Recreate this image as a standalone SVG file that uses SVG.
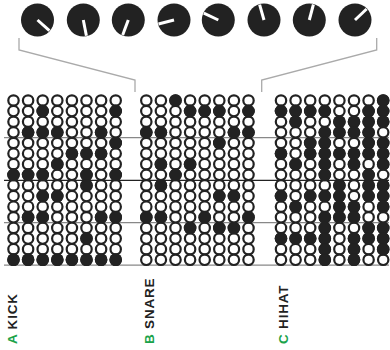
<svg xmlns="http://www.w3.org/2000/svg" xmlns:xlink="http://www.w3.org/1999/xlink" width="390" height="350" viewBox="0 0 390 350">
<style>
.knob{fill:#222}
.ptr{stroke:#fff;stroke-width:3;fill:none}
.br{stroke:#aaa;stroke-width:1.3;fill:none}
.hl{stroke:#888;stroke-width:1.3}
.hd{stroke:#222;stroke-width:1.3}
.o{fill:#fff;stroke:#222;stroke-width:2.2}
.f{fill:#222}
.lab{font-family:"Liberation Sans",Arial,sans-serif;font-weight:bold;font-size:13.5px;letter-spacing:0.8px;fill:#222}
.g{fill:#1ba34a}
</style>
<defs>
<circle id="oc" class="o" r="5.2"/>
<circle id="f" class="f" r="6.3"/>
<g id="row">
<use href="#oc" x="0"/><use href="#oc" x="14.6"/><use href="#oc" x="29.2"/><use href="#oc" x="43.8"/><use href="#oc" x="58.4"/><use href="#oc" x="73"/><use href="#oc" x="87.6"/><use href="#oc" x="102.2"/>
</g>
<g id="grid">
<use href="#row" y="0"/><use href="#row" y="10.62"/><use href="#row" y="21.24"/><use href="#row" y="31.86"/><use href="#row" y="42.48"/><use href="#row" y="53.1"/><use href="#row" y="63.72"/><use href="#row" y="74.34"/><use href="#row" y="84.96"/><use href="#row" y="95.58"/><use href="#row" y="106.2"/><use href="#row" y="116.82"/><use href="#row" y="127.44"/><use href="#row" y="138.06"/><use href="#row" y="148.68"/><use href="#row" y="159.3"/>
</g>
</defs>
<rect width="390" height="350" fill="#fff"/>
<g id="knobs">
<g id="knob1"><circle class="knob" cx="37.5" cy="20" r="16.5"/><line class="ptr" x1="37.5" y1="20" x2="49.4" y2="30.6"/></g>
<g id="knob2"><circle class="knob" cx="83.3" cy="20" r="16.5"/><line class="ptr" x1="83.3" y1="20" x2="86.4" y2="35.7"/></g>
<g id="knob3"><circle class="knob" cx="128.3" cy="20" r="16.5"/><line class="ptr" x1="128.3" y1="20" x2="122.7" y2="35"/></g>
<g id="knob4"><circle class="knob" cx="174" cy="20" r="16.5"/><line class="ptr" x1="174" y1="20" x2="158.5" y2="24"/></g>
<g id="knob5"><circle class="knob" cx="218.3" cy="20" r="16.5"/><line class="ptr" x1="218.3" y1="20" x2="203.8" y2="13.2"/></g>
<g id="knob6"><circle class="knob" cx="264" cy="20" r="16.5"/><line class="ptr" x1="264" y1="20" x2="259.6" y2="4.6"/></g>
<g id="knob7"><circle class="knob" cx="309.3" cy="20" r="16.5"/><line class="ptr" x1="309.3" y1="20" x2="313.4" y2="4.5"/></g>
<g id="knob8"><circle class="knob" cx="355" cy="20" r="16.5"/><line class="ptr" x1="355" y1="20" x2="366.6" y2="9"/></g>
</g>
<g id="connectors">
<polyline class="br" points="19,38 19,50 135,80 135,92"/>
<polyline class="br" points="376.7,38 376.7,50 261.7,80 261.7,92"/>
<line class="hl" x1="4" y1="137.7" x2="389" y2="137.7"/>
<line class="hd" x1="4" y1="180.3" x2="389" y2="180.3"/>
<line class="hl" x1="4" y1="222.7" x2="389" y2="222.7"/>
<line class="hl" x1="4" y1="265.2" x2="389" y2="265.2"/>
</g>
<g id="kick" transform="translate(13.5,100.5)">
<use href="#grid"/>
<use href="#f" x="29.2" y="10.62"/><use href="#f" x="102.2" y="10.62"/>
<use href="#f" x="14.6" y="31.86"/><use href="#f" x="29.2" y="31.86"/><use href="#f" x="43.8" y="31.86"/><use href="#f" x="87.6" y="31.86"/>
<use href="#f" x="102.2" y="42.48"/>
<use href="#f" x="58.4" y="53.1"/><use href="#f" x="73" y="53.1"/><use href="#f" x="87.6" y="53.1"/>
<use href="#f" x="43.8" y="63.72"/>
<use href="#f" x="0" y="74.34"/><use href="#f" x="14.6" y="74.34"/><use href="#f" x="29.2" y="74.34"/><use href="#f" x="73" y="74.34"/><use href="#f" x="102.2" y="74.34"/>
<use href="#f" x="73" y="84.96"/>
<use href="#f" x="29.2" y="95.58"/><use href="#f" x="43.8" y="95.58"/>
<use href="#f" x="14.6" y="116.82"/><use href="#f" x="29.2" y="116.82"/><use href="#f" x="87.6" y="116.82"/><use href="#f" x="102.2" y="116.82"/>
<use href="#f" x="73" y="138.06"/>
<use href="#f" x="0" y="159.3"/><use href="#f" x="14.6" y="159.3"/><use href="#f" x="29.2" y="159.3"/><use href="#f" x="43.8" y="159.3"/><use href="#f" x="58.4" y="159.3"/><use href="#f" x="73" y="159.3"/><use href="#f" x="87.6" y="159.3"/><use href="#f" x="102.2" y="159.3"/>
</g>
<g id="snare" transform="translate(146.3,100.5)">
<use href="#grid"/>
<use href="#f" x="29.2" y="0"/>
<use href="#f" x="43.8" y="10.62"/><use href="#f" x="58.4" y="10.62"/><use href="#f" x="73" y="10.62"/><use href="#f" x="102.2" y="10.62"/>
<use href="#f" x="0" y="31.86"/><use href="#f" x="14.6" y="31.86"/><use href="#f" x="87.6" y="31.86"/><use href="#f" x="102.2" y="31.86"/>
<use href="#f" x="73" y="42.48"/>
<use href="#f" x="14.6" y="63.72"/><use href="#f" x="43.8" y="63.72"/>
<use href="#f" x="29.2" y="74.34"/>
<use href="#f" x="14.6" y="84.96"/>
<use href="#f" x="73" y="95.58"/><use href="#f" x="87.6" y="95.58"/>
<use href="#f" x="0" y="116.82"/><use href="#f" x="14.6" y="116.82"/><use href="#f" x="58.4" y="116.82"/><use href="#f" x="102.2" y="116.82"/>
<use href="#f" x="43.8" y="127.44"/><use href="#f" x="73" y="127.44"/><use href="#f" x="87.6" y="127.44"/>
</g>
<g id="hihat" transform="translate(281,100.5)">
<use href="#grid"/>
<use href="#f" x="102.2" y="0"/>
<use href="#f" x="0" y="10.62"/><use href="#f" x="14.6" y="10.62"/><use href="#f" x="29.2" y="10.62"/><use href="#f" x="43.8" y="10.62"/><use href="#f" x="87.6" y="10.62"/><use href="#f" x="102.2" y="10.62"/>
<use href="#f" x="14.6" y="21.24"/><use href="#f" x="58.4" y="21.24"/><use href="#f" x="73" y="21.24"/><use href="#f" x="87.6" y="21.24"/><use href="#f" x="102.2" y="21.24"/>
<use href="#f" x="43.8" y="31.86"/><use href="#f" x="58.4" y="31.86"/><use href="#f" x="73" y="31.86"/><use href="#f" x="87.6" y="31.86"/>
<use href="#f" x="29.2" y="42.48"/><use href="#f" x="43.8" y="42.48"/><use href="#f" x="87.6" y="42.48"/><use href="#f" x="102.2" y="42.48"/>
<use href="#f" x="0" y="53.1"/><use href="#f" x="29.2" y="53.1"/><use href="#f" x="43.8" y="53.1"/><use href="#f" x="58.4" y="53.1"/><use href="#f" x="73" y="53.1"/><use href="#f" x="87.6" y="53.1"/><use href="#f" x="102.2" y="53.1"/>
<use href="#f" x="14.6" y="63.72"/><use href="#f" x="43.8" y="63.72"/><use href="#f" x="73" y="63.72"/><use href="#f" x="102.2" y="63.72"/>
<use href="#f" x="43.8" y="74.34"/><use href="#f" x="87.6" y="74.34"/>
<use href="#f" x="58.4" y="84.96"/><use href="#f" x="87.6" y="84.96"/><use href="#f" x="102.2" y="84.96"/>
<use href="#f" x="0" y="95.58"/><use href="#f" x="29.2" y="95.58"/><use href="#f" x="43.8" y="95.58"/><use href="#f" x="58.4" y="95.58"/><use href="#f" x="87.6" y="95.58"/><use href="#f" x="102.2" y="95.58"/>
<use href="#f" x="14.6" y="106.2"/><use href="#f" x="58.4" y="106.2"/><use href="#f" x="73" y="106.2"/><use href="#f" x="102.2" y="106.2"/>
<use href="#f" x="43.8" y="116.82"/><use href="#f" x="58.4" y="116.82"/><use href="#f" x="73" y="116.82"/>
<use href="#f" x="43.8" y="127.44"/><use href="#f" x="87.6" y="127.44"/><use href="#f" x="102.2" y="127.44"/>
<use href="#f" x="0" y="138.06"/><use href="#f" x="14.6" y="138.06"/><use href="#f" x="29.2" y="138.06"/><use href="#f" x="43.8" y="138.06"/><use href="#f" x="73" y="138.06"/><use href="#f" x="87.6" y="138.06"/><use href="#f" x="102.2" y="138.06"/>
<use href="#f" x="43.8" y="148.68"/><use href="#f" x="73" y="148.68"/><use href="#f" x="102.2" y="148.68"/>
<use href="#f" x="43.8" y="159.3"/><use href="#f" x="73" y="159.3"/>
</g>
<g id="labels">
<text class="lab" transform="translate(16.7,344) rotate(-90)"><tspan class="g">A</tspan> KICK</text>
<text class="lab" transform="translate(154,344) rotate(-90)"><tspan class="g">B</tspan> SNARE</text>
<text class="lab" transform="translate(288.3,344) rotate(-90)"><tspan class="g">C</tspan> HIHAT</text>
</g>
</svg>
